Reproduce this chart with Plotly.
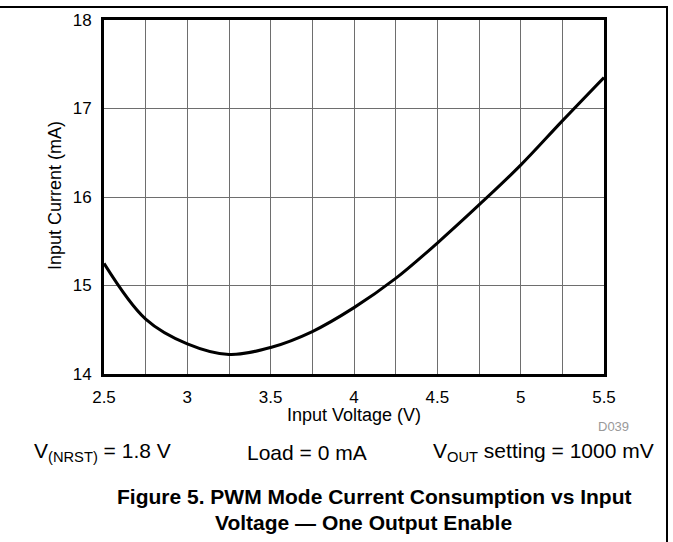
import plotly.graph_objects as go

# Data
input_voltage = [2.5, 2.75, 3.0, 3.25, 3.5, 3.75, 4.0, 4.25, 4.5, 4.75, 5.0, 5.25, 5.5]
input_current = [15.25, 14.62, 14.34, 14.22, 14.30, 14.48, 14.75, 15.08, 15.48, 15.91, 16.36, 16.86, 17.35]

x_range = [2.5, 5.5]
y_range = [14, 18]
x_ticks = [2.5, 3, 3.5, 4, 4.5, 5, 5.5]
x_ticklabels = ["2.5", "3", "3.5", "4", "4.5", "5", "5.5"]

W, H = 673, 542
L, R, T, B = 104, 604, 20, 374  # plot area in pixels

def px(x):
    return (x - L) / (R - L)

def py(y):
    return (B - y) / (B - T)

FONT = "Liberation Sans, Arial, sans-serif"

fig = go.Figure()
fig.add_trace(go.Scatter(
    x=input_voltage, y=input_current, mode="lines",
    line=dict(color="black", width=3, shape="spline", smoothing=1.0),
    hoverinfo="skip", showlegend=False,
))

grid_color = "#6e6e6e"
fig.update_layout(
    width=W, height=H,
    margin=dict(l=L, r=W - R, t=T, b=H - B, pad=0),
    paper_bgcolor="white", plot_bgcolor="white",
    font=dict(family=FONT, color="black", size=17),
    xaxis=dict(
        range=x_range, tickmode="array", tickvals=x_ticks, ticktext=x_ticklabels,
        showgrid=True, gridcolor=grid_color, gridwidth=1,
        minor=dict(dtick=0.25, tick0=2.5, showgrid=True, gridcolor=grid_color, gridwidth=1),
        showline=True, linecolor="black", linewidth=3, mirror=True,
        ticks="", ticklabelstandoff=6, zeroline=False,
        tickfont=dict(size=17),
    ),
    yaxis=dict(
        range=y_range, dtick=1, showgrid=True, gridcolor=grid_color, gridwidth=1,
        showline=True, linecolor="black", linewidth=3, mirror=True,
        ticks="", ticklabelstandoff=6, zeroline=False,
        tickfont=dict(size=17),
    ),
)

annotations = [
    dict(text="Input Voltage (V)", x=px(354), y=py(415), size=18, color="black", angle=0, xanchor="center"),
    dict(text="Input Current (mA)", x=px(55), y=py(196), size=18, color="black", angle=-90, xanchor="center"),
    dict(text="D039", x=px(631), y=py(427), size=13, color="#999999", angle=0, xanchor="right"),
    dict(text="V<sub>(NRST)</sub> = 1.8 V", x=px(32), y=py(452), size=21, color="black", angle=0, xanchor="left"),
    dict(text="Load = 0 mA", x=px(245), y=py(452), size=21, color="black", angle=0, xanchor="left"),
    dict(text="V<sub>OUT</sub> setting = 1000 mV", x=px(656), y=py(452), size=21, color="black", angle=0, xanchor="right"),
    dict(text="<b>Figure 5. PWM Mode Current Consumption vs Input</b>", x=px(374), y=py(496), size=21, color="black", angle=0, xanchor="center"),
    dict(text="<b>Voltage \u2014 One Output Enable</b>", x=px(363), y=py(522), size=21, color="black", angle=0, xanchor="center"),
]
for a in annotations:
    fig.add_annotation(
        text=a["text"], x=a["x"], y=a["y"], xref="paper", yref="paper",
        xanchor=a["xanchor"], yanchor="middle", showarrow=False,
        textangle=a["angle"], font=dict(family=FONT, size=a["size"], color=a["color"]),
    )

# page frame: open rectangle whose top and right edges form the page border
fig.add_shape(type="rect", xref="paper", yref="paper", layer="above",
              x0=px(-5), x1=px(667), y0=py(7), y1=py(560),
              line=dict(color="black", width=2), fillcolor="rgba(0,0,0,0)")

fig.write_html("out.html", config={"displayModeBar": False},
               post_script="document.body.style.margin='0px';document.body.style.overflow='hidden';")
